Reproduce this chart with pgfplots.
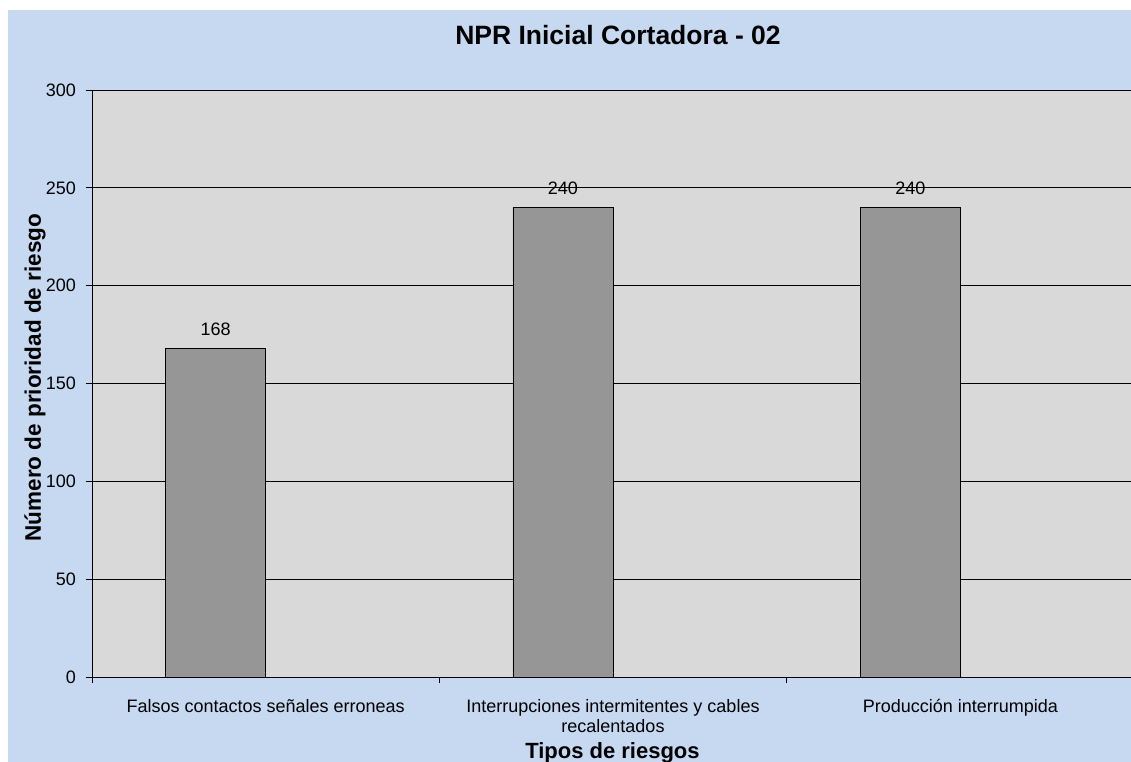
\documentclass[border=0pt]{standalone}
\usepackage{fontspec}
\setmainfont{Liberation Sans}
\usepackage{pgfplots}
\pgfplotsset{compat=1.18}
\definecolor{bgblue}{HTML}{C6D9F1}
\definecolor{plotgray}{HTML}{D9D9D9}
\definecolor{bargray}{HTML}{969696}
\begin{document}
\begin{tikzpicture}[x=1pt,y=1pt]
\useasboundingbox (-92,-85) rectangle (1039,677);
\fill[white] (-92,-85) rectangle (1039,677);
\fill[bgblue] (-84,-85) rectangle (1039,667);
\begin{axis}[
  at={(0,0)}, anchor=south west,
  scale only axis, width=1042pt, height=587pt,
  xmin=-0.5, xmax=2.5, ymin=0, ymax=300,
  axis lines*=left,
  axis line style={black, line width=0.8pt},
  axis background/.style={fill=plotgray},
  ytick={0,50,...,300},
  ymajorgrids, grid style={black, line width=0.8pt},
  tick align=outside, major tick length=6pt,
  tick style={black, line width=0.8pt},
  /pgf/number format/assume math mode=true,
  xtick={0,1,2},
  xticklabels={Falsos contactos señales erroneas, {Interrupciones intermitentes y cables\\recalentados}, Producción interrumpida},
  xtick style={draw=none},
  extra x ticks={-0.5,0.5,1.5},
  extra x tick labels={},
  extra x tick style={grid=none, xtick style={draw=black}},
  xticklabel style={font=\fontsize{18}{20}\selectfont, align=center, anchor=north, inner sep=0pt, yshift=-16pt},
  yticklabel style={font=\fontsize{18}{20}\selectfont, anchor=east, inner sep=0pt, xshift=-10pt},
  title={NPR Inicial Cortadora - 02},
  title style={font=\bfseries\fontsize{26.5}{30}\selectfont, at={(axis description cs:0.5048,1.0665)}, anchor=base, inner sep=0pt},
  xlabel={Tipos de riesgos},
  xlabel style={font=\bfseries\fontsize{22}{26}\selectfont, at={(axis description cs:0.4995,-0.138)}, anchor=base, inner sep=0pt},
  ylabel={Número de prioridad de riesgo},
  ylabel style={font=\bfseries\fontsize{22.5}{26}\selectfont, at={(axis description cs:-0.0490,0.5102)}, anchor=base, inner sep=0pt},
]
\addplot[ybar, bar width=100pt, bar shift=-50pt, fill=bargray, draw=black, line width=0.8pt,
  nodes near coords,
  nodes near coords style={font=\fontsize{18}{20}\selectfont, anchor=base, yshift=12.5pt, xshift=-50pt, inner sep=0pt, text=black}]
  coordinates {(0,168) (1,240) (2,240)};
\end{axis}
\end{tikzpicture}
\end{document}
